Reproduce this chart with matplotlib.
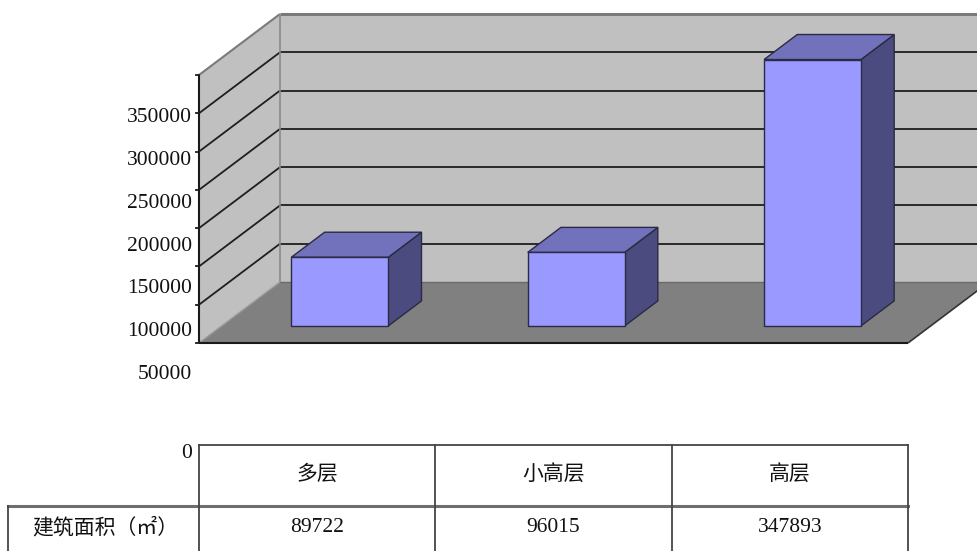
import matplotlib
matplotlib.use("Agg")
import matplotlib.pyplot as plt
from matplotlib.patches import Polygon

# data
categories = ["多层", "小高层", "高层"]
area = [89722, 96015, 347893]
row_label = "建筑面积（㎡）"
y_ticks = [50000, 100000, 150000, 200000, 250000, 300000, 350000]
y_max = 350000

CJK = ["Noto Sans CJK SC", "DejaVu Sans"]
SERIF = ["Liberation Serif", "DejaVu Serif"]

W, H = 977, 551

# oblique projection of the 3d box into pixel space
X0, FLOOR_Y = 199, 343
CAT_W = (908 - 199) / 3.0
DX, DY = 81, -61
PX_PER_UNIT = 268.0 / y_max


def proj(c, v, d):
    return (X0 + c * CAT_W + d * DX, FLOOR_Y - v * PX_PER_UNIT + d * DY)


def face(ax, pts, fc, ec="none", lw=0.0, z=1):
    ax.add_patch(Polygon([proj(*p) for p in pts], closed=True, fc=fc, ec=ec,
                         lw=lw, zorder=z, joinstyle="miter"))


def line(ax, p0, p1, color, lw, z=2):
    a, b = proj(*p0), proj(*p1)
    ax.plot([a[0], b[0]], [a[1], b[1]], color=color, lw=lw, zorder=z,
            solid_capstyle="butt")


fig = plt.figure(figsize=(W / 100, H / 100), dpi=100)
ax = fig.add_axes([0, 0, 1, 1])
ax.set_xlim(0, W)
ax.set_ylim(H, 0)
ax.axis("off")

n = len(categories)

# walls and floor
face(ax, [(0, 0, 1), (n, 0, 1), (n, y_max, 1), (0, y_max, 1)], "#c0c0c0")
face(ax, [(0, 0, 0), (0, 0, 1), (0, y_max, 1), (0, y_max, 0)], "#c0c0c0")
face(ax, [(0, 0, 0), (n, 0, 0), (n, 0, 1), (0, 0, 1)], "#808080")

# gridlines on back and side wall
for v in y_ticks[:-1]:
    line(ax, (0, v, 1), (n, v, 1), "#1e1e1e", 1.3)
    line(ax, (0, v, 0), (0, v, 1), "#1e1e1e", 1.3)

# wall edges
line(ax, (0, y_max, 1), (n, y_max, 1), "#7a7a7a", 2.2)
line(ax, (0, y_max, 0), (0, y_max, 1), "#7a7a7a", 1.5)
line(ax, (0, 0, 1), (0, y_max, 1), "#8a8a8a", 1.2)
line(ax, (0, 0, 0), (0, 0, 1), "#9a9a9a", 1.0)
line(ax, (0, 0, 1), (n, 0, 1), "#6a6a6a", 1.0)
line(ax, (n, 0, 0), (n, 0, 1), "#333333", 1.2)
line(ax, (0, 0, 0), (n, 0, 0), "#1a1a1a", 1.5, z=3)
line(ax, (0, 0, 0), (0, y_max, 0), "#1a1a1a", 1.5, z=3)

# small ticks on the value axis
for v in [0] + y_ticks:
    x, y = proj(0, v, 0)
    ax.plot([x - 3, x], [y, y], color="#1a1a1a", lw=1.3, zorder=3)

# value axis labels (narrow helper axes just left of the wall)
lab_ax = fig.add_axes([192 / W, (H - 415) / H, 4 / W, 300 / H])
lab_ax.set_ylim(0, y_max)
lab_ax.set_xlim(0, 1)
lab_ax.patch.set_visible(False)
for s in lab_ax.spines.values():
    s.set_visible(False)
lab_ax.set_xticks([])
lab_ax.set_yticks(y_ticks)
lab_ax.set_yticklabels([str(t) for t in y_ticks])
lab_ax.tick_params(axis="y", length=0, pad=0, labelsize=15.5,
                   labelcolor="#111111")
for t in lab_ax.get_yticklabels():
    t.set_fontfamily(SERIF)

# bars
half_w = 0.205
d0, d1 = 0.28, 0.69
edge = "#2a2a44"
for i, v in enumerate(area):
    c0, c1 = i + 0.5 - half_w, i + 0.5 + half_w
    face(ax, [(c1, 0, d0), (c1, 0, d1), (c1, v, d1), (c1, v, d0)],
         "#4b4b80", edge, 1.0, z=4)
    face(ax, [(c0, v, d0), (c1, v, d0), (c1, v, d1), (c0, v, d1)],
         "#7272bc", edge, 1.0, z=4)
    face(ax, [(c0, 0, d0), (c1, 0, d0), (c1, v, d0), (c0, v, d0)],
         "#9999ff", edge, 1.0, z=5)

# data table
top_y, mid_y = 445, 506
xs = [proj(c, 0, 0)[0] for c in range(n + 1)]
ax.plot([xs[0], xs[-1]], [top_y, top_y], color="#444444", lw=1.3)
ax.plot([8, xs[-1]], [mid_y, mid_y], color="#6e6e6e", lw=2.2)
for x in xs:
    ax.plot([x, x], [top_y, H + 2], color="#444444", lw=1.3)
ax.plot([8, 8], [mid_y, H + 2], color="#444444", lw=1.3)

ax.text(xs[0] - 7, 453, "0", ha="right", va="center", fontsize=15.5,
        family=SERIF, color="#111111")
for i, (cat, v) in enumerate(zip(categories, area)):
    cx = (xs[i] + xs[i + 1]) / 2
    ax.text(cx, 474, cat, ha="center", va="center", fontsize=15,
            family=CJK, color="#111111")
    ax.text(cx, 527, str(v), ha="center", va="center", fontsize=15.5,
            family=SERIF, color="#111111")
ax.text(105, 527, row_label, ha="center", va="center", fontsize=15,
        family=CJK, color="#111111")

fig.savefig("out.png", dpi=100)
